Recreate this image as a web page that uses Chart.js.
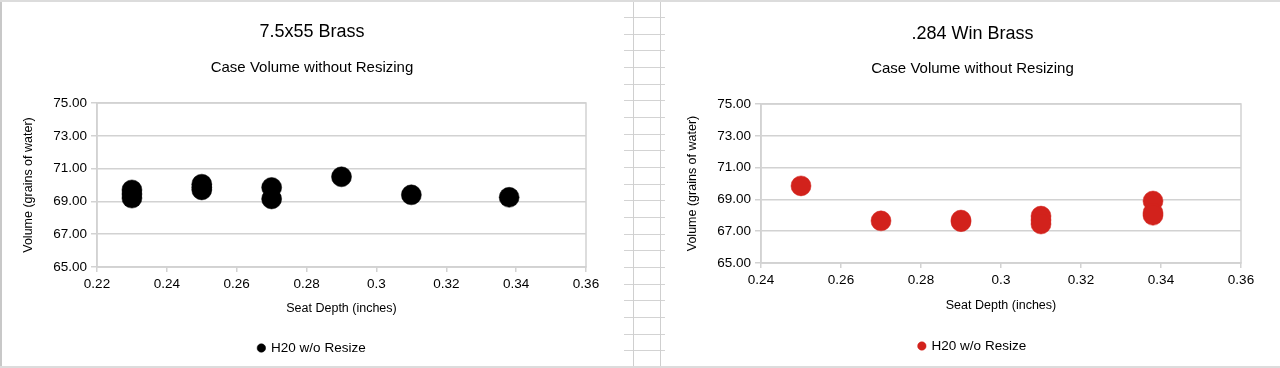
<!DOCTYPE html>
<html>
<head>
<meta charset="utf-8">
<script src="https://cdn.jsdelivr.net/npm/chart.js@4/dist/chart.umd.min.js"></script>
<style>
  html, body { margin: 0; padding: 0; background: #fff; }
  body { width: 1280px; height: 368px; position: relative; overflow: hidden; }
  .panel { position: absolute; top: 0; height: 368px; }
  #left { left: 0; width: 624px; }
  #right { left: 665px; width: 615px; }
  /* bits of the spreadsheet showing around the charts */
  .row { position: absolute; left: 624px; width: 41px; height: 1px; background: #d3d3d3; }
  .vline { position: absolute; top: 0; width: 1px; height: 368px; background: #cfcfcf; }
  .hline { position: absolute; left: 0; width: 1280px; height: 2px; background: #dcdcdc; }
</style>
</head>
<body>
<div id="sheet"></div>
<div class="vline" style="left:633px"></div>
<div class="vline" style="left:660px"></div>
<div class="vline" style="left:0px;width:2px;background:#c8c8c8"></div>
<div class="hline" style="top:0px"></div>
<div class="hline" style="top:366px"></div>
<div class="panel" id="left"><canvas id="chartLeft" width="624" height="368"></canvas></div>
<div class="panel" id="right"><canvas id="chartRight" width="615" height="368"></canvas></div>
<script>
// 7.5x55 brass
var leftSeat = [0.23, 0.23, 0.23, 0.25, 0.25, 0.25, 0.27, 0.27, 0.29, 0.31, 0.338];
var leftVolume = [69.70, 69.45, 69.20, 70.05, 69.85, 69.70, 69.85, 69.15, 70.50, 69.40, 69.25];

// .284 Win brass
var rightSeat = [0.25, 0.27, 0.29, 0.29, 0.31, 0.31, 0.31, 0.338, 0.338, 0.338];
var rightVolume = [69.85, 67.65, 67.70, 67.60, 67.95, 67.70, 67.45, 68.90, 68.15, 68.00];

var yTicks = [65, 67, 69, 71, 73, 75];
var leftXTicks = [0.22, 0.24, 0.26, 0.28, 0.30, 0.32, 0.34, 0.36];
var rightXTicks = [0.24, 0.26, 0.28, 0.30, 0.32, 0.34, 0.36];

var seriesName = 'H20 w/o Resize';
var FONT = 'Helvetica, "Liberation Sans", Arial, sans-serif';
var GRID = '#d2d2d2';

// spreadsheet rows between the two charts
var sheet = document.getElementById('sheet');
for (var k = 0; k < 22; k++) {
  var r = document.createElement('div');
  r.className = 'row';
  r.style.top = Math.round(17 + k * 16.67) + 'px';
  sheet.appendChild(r);
}

// box round the plot area (top/right edges)
var framePlugin = {
  id: 'frame',
  beforeDatasetsDraw(chart) {
    var a = chart.chartArea, ctx = chart.ctx;
    ctx.save();
    ctx.strokeStyle = GRID;
    ctx.lineWidth = 1.5;
    ctx.strokeRect(a.left, a.top, a.right - a.left, a.bottom - a.top);
    ctx.restore();
  }
};

function makeChart(id, seat, volume, xTicks, color, title, g) {
  var points = seat.map((s, i) => ({ x: s, y: volume[i] }));
  return new Chart(document.getElementById(id), {
    type: 'scatter',
    data: {
      datasets: [{
        label: seriesName,
        data: points,
        backgroundColor: color,
        borderColor: color,
        borderWidth: 0.5,
        pointRadius: 10,
        pointHoverRadius: 10
      }]
    },
    options: {
      responsive: false,
      animation: false,
      layout: { padding: { left: 0, right: 0, top: 0, bottom: g.padBottom } },
      plugins: {
        title: {
          display: true, text: title, color: '#000',
          font: { family: FONT, size: 18, weight: 'normal' },
          padding: { top: g.titleTop, bottom: 0 }
        },
        subtitle: {
          display: true, text: 'Case Volume without Resizing', color: '#000',
          font: { family: FONT, size: 15, weight: 'normal' },
          padding: { top: g.subTop, bottom: g.subBottom }
        },
        legend: {
          position: 'bottom',
          labels: {
            usePointStyle: true, pointStyle: 'circle',
            boxWidth: 6, boxHeight: 6,
            color: '#000', padding: g.legendPad,
            font: { family: FONT, size: 13.5 }
          }
        },
        tooltip: { enabled: false }
      },
      scales: {
        x: {
          type: 'linear',
          min: xTicks[0], max: xTicks[xTicks.length - 1],
          afterBuildTicks: (s) => { s.ticks = xTicks.map(v => ({ value: v })); },
          afterFit: (s) => { s.height = g.xHeight; },
          ticks: {
            color: '#000', padding: 4,
            font: { family: FONT, size: 13.5 },
            callback: (v) => String(Math.round(v * 100) / 100)
          },
          grid: { drawOnChartArea: false, drawTicks: true, tickLength: 5, color: GRID, lineWidth: 1.5 },
          border: { display: true, color: GRID, width: 1.5 },
          title: {
            display: true, text: 'Seat Depth (inches)', color: '#000',
            font: { family: FONT, size: 12.5 },
            padding: { top: 0, bottom: g.xTitlePad }
          }
        },
        y: {
          min: 65, max: 75,
          afterBuildTicks: (s) => { s.ticks = yTicks.map(v => ({ value: v })); },
          afterFit: (s) => { s.width = g.yWidth; },
          ticks: {
            color: '#000', padding: 4,
            font: { family: FONT, size: 13.5 },
            callback: (v) => v.toFixed(2)
          },
          grid: { color: GRID, lineWidth: 1.5, tickLength: 6 },
          border: { display: true, color: GRID, width: 1.5 },
          title: {
            display: true, text: 'Volume (grains of water)', color: '#000',
            font: { family: FONT, size: 12.5 },
            padding: { top: g.yTitlePad, bottom: 0 }
          }
        },
        // empty strip on the right so the titles stay centred on the panel
        gap: {
          type: 'linear', position: 'right', display: true,
          afterFit: (s) => { s.width = g.rightGap; },
          ticks: { display: false },
          grid: { display: false },
          border: { display: false }
        }
      }
    },
    plugins: [framePlugin]
  });
}

makeChart('chartLeft', leftSeat, leftVolume, leftXTicks, '#000000', '7.5x55 Brass', {
  rightGap: 38, padBottom: 3.25,
  titleTop: 21.7, subTop: 15.7, subBottom: 26,
  xHeight: 50, xTitlePad: 0.5, legendPad: 24.25,
  yWidth: 97, yTitlePad: 21
});

makeChart('chartRight', rightSeat, rightVolume, rightXTicks, '#d2221c', '.284 Win Brass', {
  rightGap: 39, padBottom: 5.25,
  titleTop: 23.7, subTop: 14.7, subBottom: 26,
  xHeight: 52, xTitlePad: 1.5, legendPad: 24.25,
  yWidth: 96, yTitlePad: 20.5
});
</script>
</body>
</html>
